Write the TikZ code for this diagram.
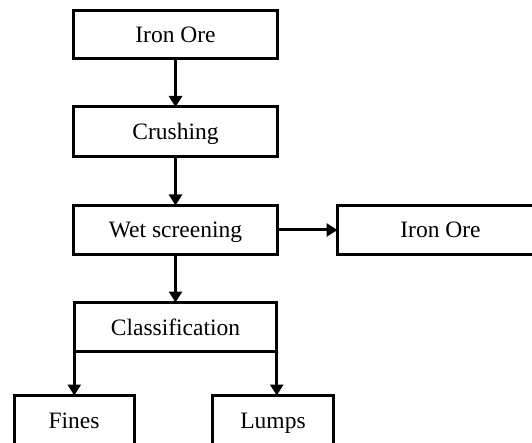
\documentclass[tikz,border=0pt]{standalone}
\usepackage{fontspec}
\setmainfont{Liberation Serif}
\usetikzlibrary{arrows.meta}
\begin{document}
\begin{tikzpicture}[x=1pt,y=-1pt,
  box/.style={draw=black,line width=3pt,rectangle,inner sep=0pt,outer sep=0pt,
    minimum width=204pt,minimum height=49pt,text height=16pt,text depth=0pt,
    font=\fontsize{23.5}{27}\selectfont},
  flow/.style={line width=3pt,-{Triangle[length=11pt,width=13pt]}}]
\clip (0,0) rectangle (532,443);
\fill[white] (0,0) rectangle (532,443);
\node[box,minimum height=48pt] (ore1) at (175.5,35) {Iron Ore};
\node[box,minimum height=50pt] (crush) at (175.5,132) {Crushing};
\node[box] (wet) at (175.5,230) {Wet screening};
\node[box,minimum width=206pt] (ore2) at (440.5,230) {Iron Ore};
\node[box,minimum width=202.5pt] (class) at (175.5,327) {Classification};
\node[box,minimum width=120pt] (fines) at (74,420) {Fines};
\node[box,minimum width=121pt] (lumps) at (273,420) {Lumps};
\draw[flow] (ore1) -- (crush);
\draw[flow] (crush) -- (wet);
\draw[flow] (wet) -- (ore2);
\draw[flow] (wet) -- (class);
\draw[flow] (class.south west) -- (class.south west |- fines.north);
\draw[flow] (class.south east) -- (class.south east |- lumps.north);
\end{tikzpicture}
\end{document}
